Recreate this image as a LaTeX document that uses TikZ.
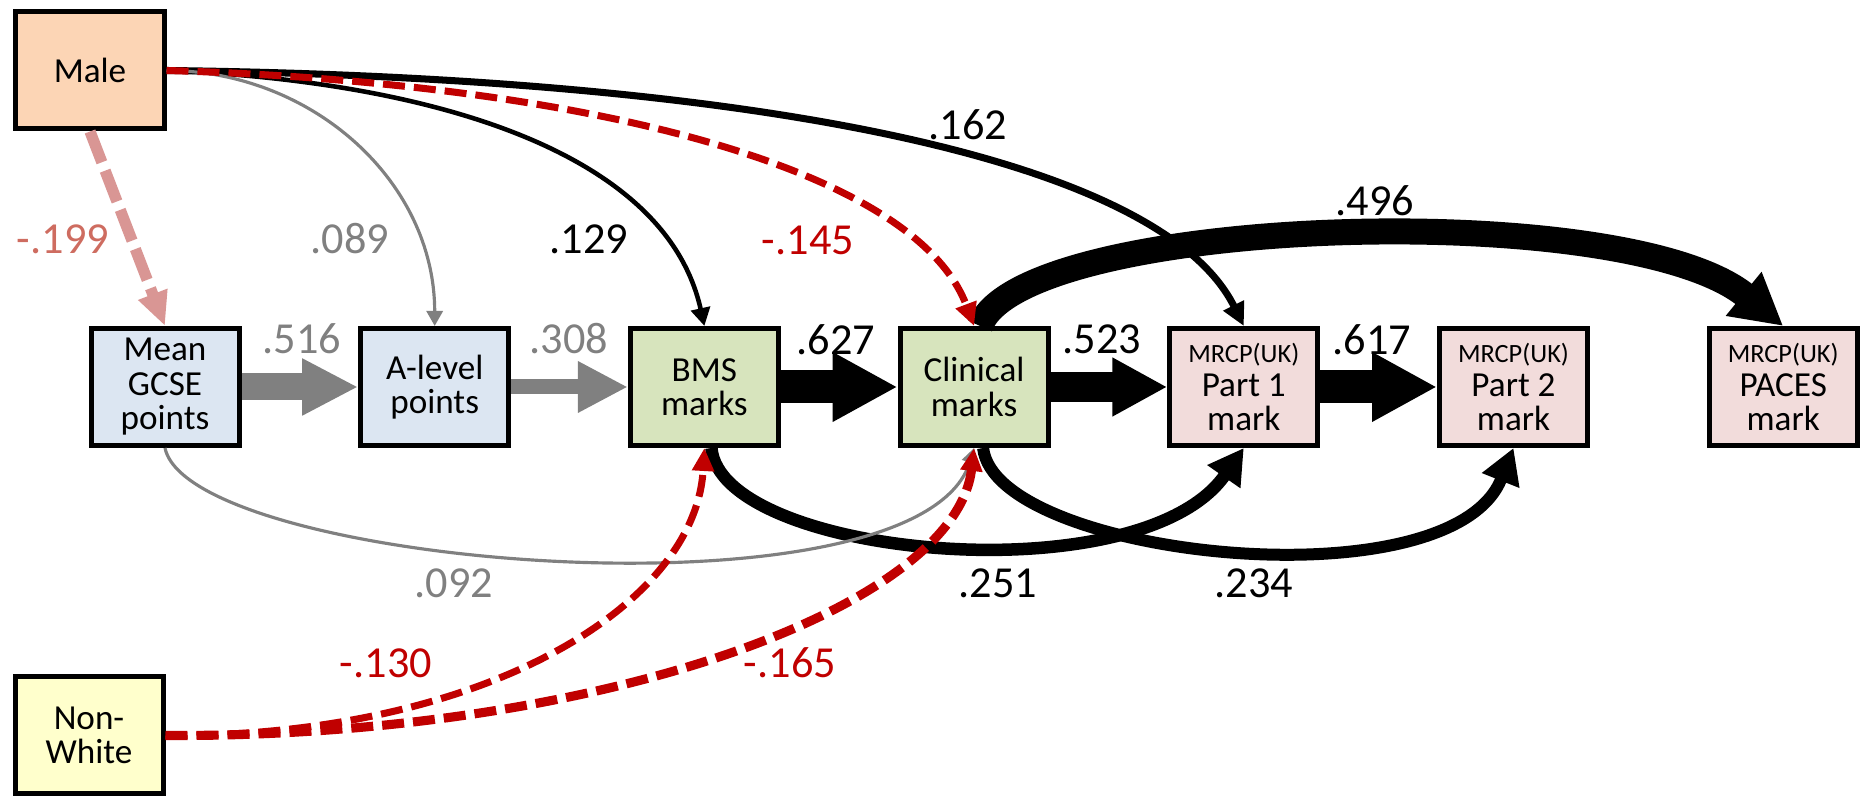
\documentclass[tikz,border=0pt]{standalone}
\usepackage{fontspec}
\setmainfont{Carlito}
\usetikzlibrary{matrix,positioning,arrows.meta}
\definecolor{malefill}{RGB}{252,213,181}
\definecolor{nonwhitefill}{RGB}{255,255,204}
\definecolor{schoolfill}{RGB}{220,230,242}
\definecolor{medfill}{RGB}{215,228,189}
\definecolor{mrcpfill}{RGB}{242,220,219}
\definecolor{negred}{RGB}{192,0,0}
\definecolor{pathgrey}{RGB}{128,128,128}
\definecolor{salmon}{RGB}{217,150,148}
\definecolor{salmontext}{RGB}{206,108,96}
\newcommand{\mrcpuk}[0]{{\fontsize{7.5}{9.8}\selectfont MRCP(UK)}\\}

\begin{document}
\begin{tikzpicture}[
box/.style={
  draw,
  line width=0.5mm,
  minimum width=1.48cm,
  minimum height=1.17cm,
  inner sep=0pt,
  font=\fontsize{10}{9.8}\selectfont
  },
net/.style={
  matrix of nodes,
  nodes={box},
  column sep=1.167cm
  },
coef/.style={
  inner sep=0pt,
  font=\fontsize{12.6}{15}\selectfont
  },
negline/.style={
  negred,
  line width=#1,
  dash pattern=on 2.2mm off 0.9mm,
  -{Triangle[width=2.1mm,length=2.3mm]}
  },
greyline/.style={
  pathgrey,
  line width=0.9pt,
  -{Triangle[width=1.6mm,length=1.5mm]}
  }
]
\useasboundingbox (0,0) rectangle (18.61,7.97);
\matrix[net] (mat) at (9.741,4.10)
{
|[fill=schoolfill]| \parbox{1.45cm}{\centering Mean\\GCSE\\points} & |[fill=schoolfill]| \parbox{1.45cm}{\centering A-level\\points} & |[fill=medfill]| \parbox{1.45cm}{\centering BMS\\marks} & |[fill=medfill]| \parbox{1.45cm}{\centering Clinical\\marks} & |[fill=mrcpfill]| \parbox{1.45cm}{\centering\mrcpuk Part 1\\mark} & |[fill=mrcpfill]| \parbox{1.45cm}{\centering\mrcpuk Part 2\\mark} & |[fill=mrcpfill]| \parbox{1.45cm}{\centering\mrcpuk PACES\\mark} \\
};
\node[box, fill=malefill] (male) at (0.90,7.265) {Male};
\node[box, fill=nonwhitefill] (nonwhite) at (0.89,0.615) {\parbox{1.45cm}{\centering Non-\\White}};

 \draw[pathgrey, line width=2.7mm, -{Triangle[width=5.3mm,length=5.6mm]}] (mat-1-1) -- (mat-1-2);
 \draw[pathgrey, line width=1.5mm, -{Triangle[width=4.8mm,length=5mm]}] (mat-1-2) -- (mat-1-3);
 \draw[line width=3.3mm, -{Triangle[width=6.5mm,length=6.5mm]}] (mat-1-3) -- (mat-1-4);
 \draw[line width=3mm, -{Triangle[width=5.5mm,length=5.5mm]}] (mat-1-4) -- (mat-1-5);
 \draw[line width=3.3mm, -{Triangle[width=6.5mm,length=6.5mm]}] (mat-1-5) -- (mat-1-6);

  \draw[salmon, line width=3.2pt, dash pattern=on 3.3mm off 0.9mm, -{Triangle[width=2.9mm,length=3.4mm]}] (male.south) -- (mat-1-1.north);
  \draw[line width=1.3pt, -{Triangle[width=1.9mm,length=1.8mm]}] (male.east) .. controls +(2.5,-0.1) and +(-0.4,1.8) .. (mat-1-3.north);
  \draw[line width=2pt, -{Triangle[width=2.2mm,length=2.3mm]}] (male.east) .. controls +(5.83,-0.07) and +(-0.84,1.69) .. (mat-1-5.north);
  \draw[line width=2.6mm, -{Triangle[width=5.3mm,length=5.1mm]}] ([xshift=0.6mm]mat-1-4.north) .. controls +(0.4,1.09) and +(-1.6,1.3) .. (mat-1-7.north);
  \draw[line width=1.25mm, -{Triangle[width=3.8mm,length=3.5mm]}] ([xshift=0.7mm]mat-1-3.south) .. controls +(0.09,-1.09) and +(-1.04,-1.49) .. (mat-1-5.south);
  \draw[line width=1.2mm, -{Triangle[width=3.8mm,length=3.5mm]}] ([xshift=0.9mm]mat-1-4.south) .. controls +(0.12,-1.09) and +(-0.63,-1.59) .. (mat-1-6.south);

   \draw[greyline] (male.east) .. controls +(1.45,0) and +(0,1.45) .. (mat-1-2.north);
   \draw[greyline] (mat-1-1.south) .. controls +(0.25,-1.19) and +(-0.54,-1.79) .. (mat-1-4.south);

    \draw[negline=2pt] (male.east) .. controls +(4.13,-0.12) and +(-0.6,1.6) .. (mat-1-4.north);
    \draw[negline=2pt] (nonwhite.east) .. controls +(3.15,-0.02) and +(-0.09,-1.59) .. (mat-1-3.south);
    \draw[negline=2.6pt] (nonwhite.east) .. controls +(4.35,-0.02) and +(-0.19,-1.59) .. (mat-1-4.south);

\node[coef, salmontext] (c199) at (0.63,5.58) {-.199};
\node[coef, pathgrey] (c089) at (3.50,5.58) {.089};
\node[coef] (c129) at (5.89,5.58) {.129};
\node[coef, negred] (c145) at (8.08,5.57) {-.145};
\node[coef] (c162) at (9.68,6.72) {.162};
\node[coef] (c496) at (13.75,5.96) {.496};
\node[coef, pathgrey] (c516) at (3.02,4.58) {.516};
\node[coef, pathgrey] (c308) at (5.69,4.58) {.308};
\node[coef] (c627) at (8.36,4.57) {.627};
\node[coef] (c523) at (11.02,4.58) {.523};
\node[coef] (c617) at (13.72,4.57) {.617};
\node[coef, pathgrey] (c092) at (4.54,2.14) {.092};
\node[coef] (c251) at (9.98,2.14) {.251};
\node[coef] (c234) at (12.54,2.14) {.234};
\node[coef, negred] (c130) at (3.86,1.34) {-.130};
\node[coef, negred] (c165) at (7.90,1.34) {-.165};
\end{tikzpicture}
\end{document}
